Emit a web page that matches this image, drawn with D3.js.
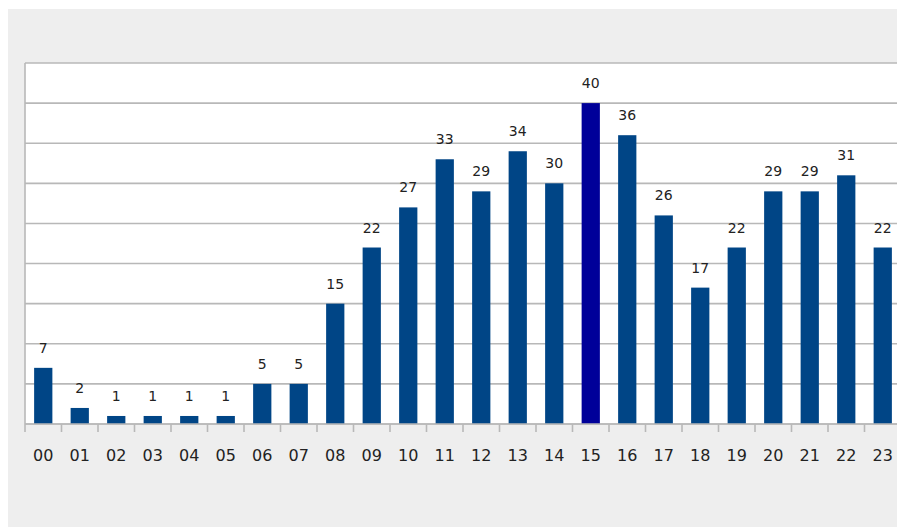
<!DOCTYPE html>
<html>
<head>
<meta charset="utf-8">
<script src="https://cdn.jsdelivr.net/npm/d3@7"></script>
<style>
  body { margin: 0; background: #fff; }
  text { font-family: "DejaVu Sans", Verdana, sans-serif; }
</style>
</head>
<body>
<script>
// hours and counts
const hours = ["00","01","02","03","04","05","06","07","08","09","10","11","12","13","14","15","16","17","18","19","20","21","22","23"];
const counts = [7, 2, 1, 1, 1, 1, 5, 5, 15, 22, 27, 33, 29, 34, 30, 40, 36, 26, 17, 22, 29, 29, 31, 22];
const yTicks = [0, 5, 10, 15, 20, 25, 30, 35, 40, 45];
const highlight = "15";

const barColor = "#004586";
const hiColor = "#000099";
const gridColor = "#b8b8b8";

const width = 897, height = 527;
const plotLeft = 25, plotTop = 63, plotBottom = 424;
const step = 36.5;

const svg = d3.select("body").append("svg")
    .attr("width", width)
    .attr("height", height);

// grey panel behind the chart
svg.append("rect")
    .attr("x", 8).attr("y", 9)
    .attr("width", width - 8).attr("height", height - 9)
    .attr("fill", "#eeeeee");

const x = d3.scaleBand()
    .domain(hours)
    .range([plotLeft, plotLeft + step * hours.length])
    .paddingInner(0.5)
    .paddingOuter(0.25);

const y = d3.scaleLinear()
    .domain([0, 45])
    .range([plotBottom, plotTop]);

// white plot area
svg.append("rect")
    .attr("x", plotLeft).attr("y", plotTop)
    .attr("width", width - plotLeft).attr("height", plotBottom - plotTop)
    .attr("fill", "#fff");

// horizontal gridlines
svg.append("g")
    .selectAll("line")
    .data(yTicks)
    .join("line")
    .attr("x1", plotLeft).attr("x2", width)
    .attr("y1", d => y(d)).attr("y2", d => y(d))
    .attr("stroke", gridColor)
    .attr("stroke-width", 1.6);

// left axis line
svg.append("line")
    .attr("x1", plotLeft).attr("x2", plotLeft)
    .attr("y1", plotTop).attr("y2", plotBottom + 8)
    .attr("stroke", gridColor)
    .attr("stroke-width", 1.6);

// bars
svg.append("g")
    .selectAll("rect")
    .data(hours)
    .join("rect")
    .attr("x", d => x(d))
    .attr("y", (d, i) => y(counts[i]))
    .attr("width", x.bandwidth())
    .attr("height", (d, i) => y(0) - y(counts[i]))
    .attr("fill", d => d === highlight ? hiColor : barColor);

// value labels
svg.append("g")
    .attr("font-size", 14)
    .attr("fill", "#222")
    .attr("text-anchor", "middle")
    .selectAll("text")
    .data(hours)
    .join("text")
    .attr("x", d => x(d) + x.bandwidth() / 2)
    .attr("y", (d, i) => y(counts[i]) - 15)
    .text((d, i) => counts[i]);

// bottom axis with ticks between categories
const xAxis = d3.axisBottom(x).tickSize(0).tickPadding(0);
const gx = svg.append("g")
    .attr("transform", `translate(0,${plotBottom})`)
    .call(xAxis)
    .call(g => g.select(".domain").remove());

gx.selectAll(".tick text")
    .attr("y", 37)
    .attr("dy", 0)
    .attr("font-size", 16)
    .attr("font-family", "DejaVu Sans, Verdana, sans-serif")
    .attr("fill", "#222");

gx.append("line")
    .attr("x1", plotLeft).attr("x2", width)
    .attr("y1", 0).attr("y2", 0)
    .attr("stroke", gridColor)
    .attr("stroke-width", 1.6);

gx.selectAll(".sep")
    .data(d3.range(1, hours.length + 1))
    .join("line")
    .attr("class", "sep")
    .attr("x1", i => plotLeft + i * x.step())
    .attr("x2", i => plotLeft + i * x.step())
    .attr("y1", 0).attr("y2", 8)
    .attr("stroke", gridColor)
    .attr("stroke-width", 1.6);
</script>
</body>
</html>
